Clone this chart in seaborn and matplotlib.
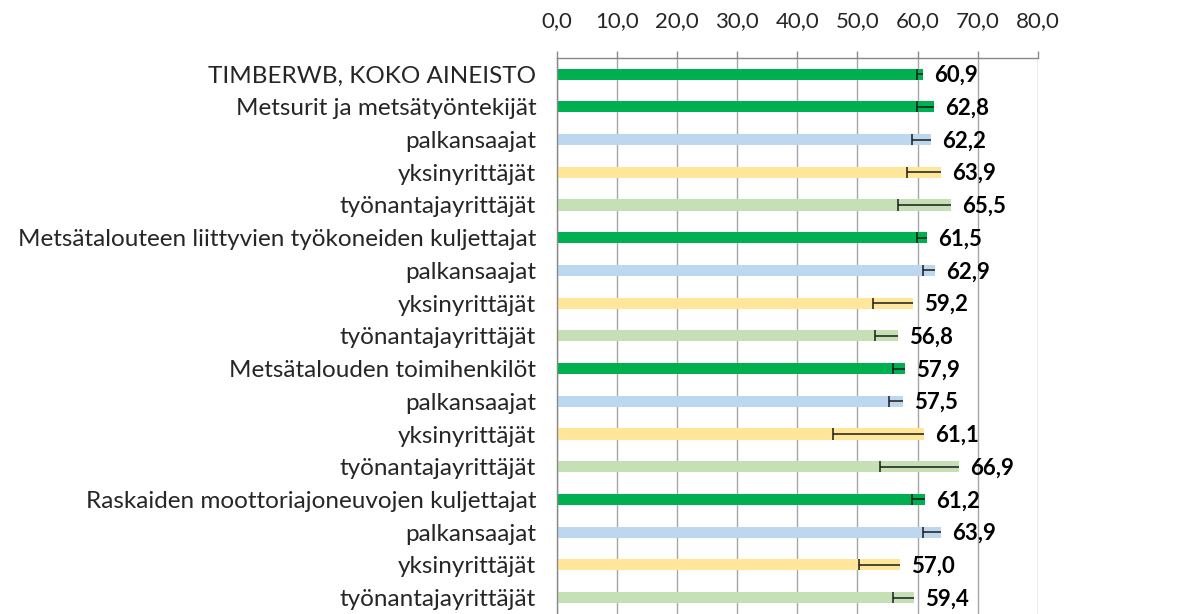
import numpy as np
import pandas as pd
import matplotlib
matplotlib.use("Agg")
import matplotlib.pyplot as plt
import seaborn as sns

# Rows from top to bottom
labels = [
    "TIMBERWB, KOKO AINEISTO",
    "Metsurit ja metsätyöntekijät",
    "palkansaajat",
    "yksinyrittäjät",
    "työnantajayrittäjät",
    "Metsätalouteen liittyvien työkoneiden kuljettajat",
    "palkansaajat",
    "yksinyrittäjät",
    "työnantajayrittäjät",
    "Metsätalouden toimihenkilöt",
    "palkansaajat",
    "yksinyrittäjät",
    "työnantajayrittäjät",
    "Raskaiden moottoriajoneuvojen kuljettajat",
    "palkansaajat",
    "yksinyrittäjät",
    "työnantajayrittäjät",
]
values = [60.9, 62.8, 62.2, 63.9, 65.5, 61.5, 62.9, 59.2, 56.8,
          57.9, 57.5, 61.1, 66.9, 61.2, 63.9, 57.0, 59.4]
# lower error (drawn only to the left)
errors = [1.0, 2.9, 3.2, 5.7, 8.8, 1.6, 2.0, 6.6, 3.8,
          2.0, 2.3, 15.2, 13.2, 2.2, 3.0, 6.8, 3.5]
groups = ["total", "total", "palkansaajat", "yksinyrittäjät", "työnantajat",
          "total", "palkansaajat", "yksinyrittäjät", "työnantajat",
          "total", "palkansaajat", "yksinyrittäjät", "työnantajat",
          "total", "palkansaajat", "yksinyrittäjät", "työnantajat"]
group_colors = {
    "total": "#00B050",
    "palkansaajat": "#BDD7EE",
    "yksinyrittäjät": "#FFE699",
    "työnantajat": "#C5E0B4",
}
xticks = [0, 10, 20, 30, 40, 50, 60, 70, 80]

df = pd.DataFrame({"row": range(len(labels)), "value": values, "group": groups})

sns.set_style("white")
plt.rcParams["font.family"] = ["Lato", "DejaVu Sans"]

fig = plt.figure(figsize=(11.79, 6.14), dpi=100)
ax = fig.add_axes([0.4724, 0.0, 0.4078, 0.906])

sns.barplot(data=df, x="value", y="row", hue="group", palette=group_colors,
            orient="h", dodge=False, legend=False, width=0.34,
            linewidth=0, saturation=1, ax=ax, zorder=2)

pos = np.arange(len(labels))
vals = np.array(values)
errs = np.array(errors)
ax.hlines(pos, vals - errs, vals, color="#1a1a1a", lw=1.1, zorder=3)
ax.vlines(vals - errs, pos - 0.17, pos + 0.17, color="#1a1a1a", lw=1.1, zorder=3)

for p, v in zip(pos, vals):
    ax.annotate(f"{v:.1f}".replace(".", ","), (v, p), xytext=(8, -1),
                textcoords="offset points", va="center", ha="left",
                fontsize=16, fontweight="bold", color="black")

ax.set_xlim(0, 80)
ax.set_ylim(len(labels) - 0.5, -0.5)
ax.xaxis.tick_top()
ax.set_xticks(xticks)
ax.set_xticklabels([f"{t:.1f}".replace(".", ",") for t in xticks], fontsize=16)
ax.set_yticks(pos)
ax.set_yticklabels(labels, fontsize=17.5)
ax.set_yticks(np.arange(len(labels) + 1) - 0.5, minor=True)
ax.tick_params(axis="y", which="major", length=0, pad=15)
ax.tick_params(axis="y", which="minor", length=5, color="#888888", width=1)
ax.tick_params(axis="x", length=5, color="#888888", width=1, pad=14)
ax.set_xlabel("")
ax.set_ylabel("")

ax.grid(axis="x", color="#A6A6A6", lw=1, zorder=0)
ax.set_axisbelow(True)
for side in ["right", "bottom"]:
    ax.spines[side].set_visible(False)
for side in ["left", "top"]:
    ax.spines[side].set_color("#888888")
    ax.spines[side].set_linewidth(1)

fig.savefig("out.png", dpi=100)
